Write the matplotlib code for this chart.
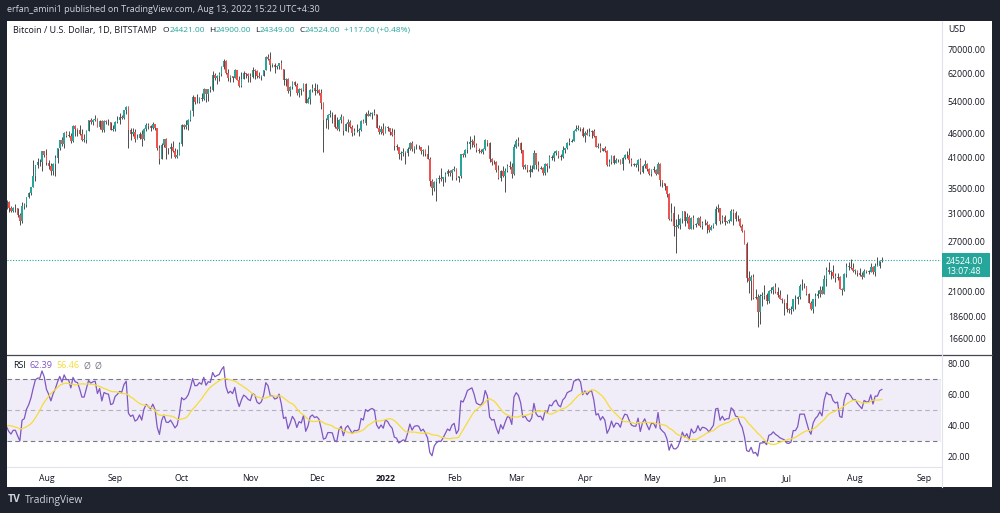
import numpy as np
import pandas as pd
import matplotlib
matplotlib.use("Agg")
import matplotlib.pyplot as plt
import matplotlib.dates as mdates
from matplotlib.ticker import NullLocator
from matplotlib.patches import Rectangle
from matplotlib.lines import Line2D

plt.rcParams['font.family'] = ['Open Sans', 'DejaVu Sans']

W, H = 1000, 513

# BTC/USD daily (Bitstamp), values in thousands of USD
start_date = '2021-07-14'
first_open = 32.7
last_open = 24.421

# closes before the visible range, only used to warm up the RSI (2021-06-14 .. 2021-07-13)
warmup_close = [40.5, 40.2, 38.3, 38.1, 35.8, 35.5, 35.6, 31.6, 32.5, 33.7, 34.7, 31.6, 32.2, 34.7, 34.5, 36.0, 35.0,
                33.5, 33.8, 34.7, 35.3, 33.7, 34.2, 33.9, 32.9, 33.8, 33.5, 34.3, 33.1, 32.7]

close = [
    # Jul 14-31 2021
    32.8, 31.9, 31.4, 31.8, 31.8, 30.8, 29.8, 32.1, 32.3, 33.6, 34.3, 35.4, 37.3, 39.5, 40.0, 40.0, 42.2, 41.5,
    # Aug
    39.9, 39.2, 38.2, 39.7, 40.9, 42.8, 44.6, 43.8, 46.3, 45.6, 45.6, 44.4, 47.8, 47.1, 47.0, 46.0, 44.7, 44.7,
    46.8, 49.3, 48.9, 49.3, 49.5, 47.7, 49.0, 46.9, 49.1, 48.9, 48.8, 47.0, 47.2,
    # Sep
    48.8, 49.3, 50.0, 49.9, 51.8, 52.7, 46.9, 46.1, 46.4, 44.9, 45.2, 46.1, 44.9, 47.1, 48.2, 47.8, 47.3, 48.3,
    47.3, 43.0, 40.7, 43.6, 44.9, 42.8, 42.7, 43.2, 42.2, 41.0, 41.5, 43.8,
    # Oct
    48.2, 47.7, 48.2, 49.2, 51.5, 55.3, 53.8, 53.9, 55.0, 54.7, 57.5, 56.0, 57.4, 57.3, 61.7, 60.9, 61.5, 62.0,
    64.3, 66.0, 62.2, 60.7, 61.4, 60.9, 63.1, 60.3, 58.5, 60.6, 62.3, 61.9, 61.3,
    # Nov
    61.0, 63.2, 62.9, 61.4, 61.0, 61.5, 63.3, 67.5, 66.9, 64.9, 64.9, 64.2, 64.4, 65.5, 63.6, 60.1, 60.4, 56.9,
    58.1, 59.7, 58.7, 56.3, 57.6, 57.2, 58.9, 53.6, 54.8, 57.3, 57.8, 57.0,
    # Dec
    57.2, 56.5, 53.6, 49.2, 49.4, 50.6, 50.6, 50.5, 47.6, 47.1, 49.4, 50.1, 46.7, 48.4, 48.9, 47.6, 46.2, 46.8,
    46.7, 46.9, 49.0, 48.6, 50.8, 50.4, 50.8, 51.0, 50.7, 47.5, 46.5, 47.1, 46.3,
    # Jan 2022
    47.7, 47.3, 46.4, 45.8, 43.4, 43.1, 41.6, 41.8, 42.0, 41.8, 42.7, 43.9, 42.6, 43.1, 43.2, 43.1, 42.2, 42.4,
    41.7, 40.7, 36.5, 35.1, 36.3, 36.7, 36.9, 36.8, 37.2, 37.7, 38.2, 37.9, 38.5,
    # Feb
    38.7, 36.9, 37.3, 41.6, 41.4, 42.4, 43.8, 44.1, 44.4, 43.6, 42.4, 42.2, 42.1, 42.6, 44.6, 43.9, 40.6, 40.0,
    40.1, 38.4, 37.0, 38.3, 37.3, 38.3, 39.2, 39.1, 37.7, 43.2,
    # Mar
    44.4, 43.9, 42.5, 39.1, 39.4, 38.4, 38.0, 38.7, 41.9, 39.4, 38.7, 38.8, 37.8, 39.7, 39.3, 41.1, 40.9, 41.8,
    42.2, 41.3, 41.0, 42.4, 42.9, 44.0, 44.3, 44.5, 46.8, 47.1, 47.4, 47.1, 45.5,
    # Apr
    46.3, 45.8, 46.4, 46.6, 45.5, 43.2, 43.4, 42.3, 42.8, 42.2, 39.5, 40.1, 41.2, 39.9, 40.5, 40.4, 39.7, 40.8,
    41.5, 41.4, 40.5, 39.7, 39.5, 39.5, 40.4, 38.1, 39.2, 39.7, 38.6, 37.7,
    # May
    38.5, 38.5, 37.7, 39.7, 36.6, 36.0, 35.5, 34.1, 30.1, 31.0, 29.1, 29.0, 29.3, 30.1, 31.3, 29.9, 30.4, 28.7,
    30.3, 29.2, 29.4, 30.3, 29.1, 29.6, 29.5, 29.2, 28.6, 29.0, 29.4, 31.7, 31.8,
    # Jun
    29.8, 30.4, 29.7, 29.9, 29.9, 31.4, 31.1, 30.2, 30.1, 29.1, 28.4, 26.6, 22.5, 22.1, 22.6, 20.4, 20.5, 19.0,
    20.6, 20.6, 20.7, 20.0, 21.1, 21.2, 21.5, 21.0, 20.7, 20.3, 20.1, 19.9,
    # Jul
    19.3, 19.2, 19.3, 20.2, 20.2, 20.5, 21.6, 21.6, 21.6, 20.8, 19.9, 19.3, 20.2, 20.6, 20.8, 21.2, 20.8, 22.4,
    23.4, 23.2, 23.2, 22.7, 22.5, 22.6, 21.3, 21.2, 22.9, 23.8, 23.8, 23.6, 23.3,
    # Aug 1-13
    23.3, 23.0, 22.8, 22.6, 23.3, 23.2, 23.2, 23.8, 23.2, 23.9, 23.9, 24.407, 24.524,
]

high = [
    33.1, 32.9, 32.2, 32.0, 32.4, 31.9, 31.0, 32.8, 32.6, 33.6, 34.5, 35.4, 40.5, 39.5, 40.9, 40.6, 42.3, 42.3,
    42.6, 40.4, 39.8, 39.9, 41.4, 43.0, 44.7, 45.3, 46.4, 46.7, 46.8, 46.2, 48.1, 48.0, 47.4, 48.0, 47.2, 46.0,
    47.0, 49.4, 49.8, 49.5, 50.5, 49.9, 49.2, 49.4, 49.2, 49.3, 49.6, 48.9, 48.2,
    49.0, 50.4, 51.0, 50.5, 51.9, 52.9, 52.9, 47.3, 47.3, 47.1, 45.9, 46.4, 46.9, 47.3, 48.5, 48.5, 48.2, 48.8,
    48.4, 47.4, 43.6, 44.0, 44.9, 45.0, 42.9, 44.0, 44.4, 42.8, 42.6, 44.1,
    48.4, 48.4, 49.3, 49.5, 51.9, 55.8, 55.3, 56.1, 55.4, 56.5, 57.8, 57.6, 57.6, 58.5, 62.9, 62.3, 61.8, 62.6,
    64.4, 66.9, 66.6, 63.7, 61.7, 61.5, 63.7, 63.2, 61.5, 62.5, 62.9, 62.3, 62.4,
    62.4, 64.3, 63.5, 63.1, 62.6, 61.6, 63.3, 67.7, 68.5, 69.0, 65.6, 65.4, 64.9, 65.5, 66.3, 63.6, 60.8, 60.9,
    58.4, 59.8, 60.0, 59.3, 57.8, 57.7, 59.4, 59.2, 55.3, 57.4, 58.9, 59.2,
    59.1, 57.4, 57.6, 53.9, 49.8, 50.9, 51.9, 51.2, 50.8, 50.1, 49.5, 50.8, 50.2, 48.7, 49.5, 49.4, 48.0, 47.3,
    48.3, 47.5, 49.3, 49.6, 51.4, 51.8, 51.2, 51.3, 52.0, 50.7, 48.1, 47.9, 48.5,
    47.9, 47.9, 47.5, 47.5, 47.1, 43.7, 43.1, 42.3, 42.8, 42.2, 43.1, 44.3, 44.4, 43.4, 43.8, 43.5, 43.2, 42.7,
    42.6, 43.5, 41.1, 36.8, 36.4, 37.0, 37.6, 38.9, 37.2, 38.0, 38.7, 38.4, 38.7,
    39.3, 38.9, 37.4, 41.7, 41.9, 42.7, 44.5, 45.5, 44.8, 45.8, 43.9, 43.0, 42.7, 42.9, 44.8, 44.6, 44.2, 40.9,
    40.4, 40.2, 39.5, 38.4, 39.3, 38.8, 39.7, 40.3, 39.9, 43.8,
    44.9, 45.4, 44.1, 42.5, 39.6, 39.3, 39.5, 39.4, 42.5, 41.9, 40.2, 39.3, 39.0, 39.9, 39.8, 41.5, 41.4, 42.3,
    42.4, 42.3, 41.7, 43.3, 43.0, 44.2, 45.1, 44.8, 46.9, 48.2, 48.1, 47.7, 47.6,
    46.7, 47.2, 47.4, 46.9, 47.1, 45.5, 43.9, 43.9, 42.8, 43.4, 42.4, 40.7, 41.5, 41.5, 40.9, 40.7, 40.6, 41.1,
    41.7, 42.2, 42.9, 40.8, 39.9, 39.9, 40.6, 40.8, 39.5, 40.4, 39.9, 38.8,
    38.6, 39.2, 38.6, 40.0, 39.8, 36.6, 36.1, 35.5, 34.3, 32.7, 32.2, 30.1, 30.9, 30.3, 31.4, 31.3, 31.0, 30.7,
    30.5, 30.7, 29.6, 30.5, 30.6, 29.8, 30.2, 29.8, 29.4, 29.2, 29.5, 32.2, 32.4,
    31.9, 30.7, 30.7, 29.9, 30.2, 31.7, 31.6, 31.3, 30.7, 30.3, 29.4, 28.5, 26.9, 23.3, 22.8, 22.9, 21.3, 20.8,
    20.8, 21.0, 21.7, 20.9, 21.2, 21.5, 21.6, 21.9, 21.5, 21.2, 20.4, 20.2,
    20.8, 19.4, 19.6, 20.3, 20.7, 20.6, 21.8, 22.4, 21.9, 21.6, 20.9, 20.0, 20.3, 20.9, 21.2, 21.6, 21.6, 22.8,
    23.8, 24.3, 23.4, 24.0, 23.0, 23.0, 22.7, 21.4, 23.1, 24.2, 24.4, 24.7, 24.2,
    23.5, 23.4, 23.6, 23.2, 23.5, 23.4, 23.4, 24.2, 23.9, 24.2, 24.9, 24.5, 24.9,
]

low = [
    31.6, 31.2, 31.2, 31.2, 31.2, 30.5, 29.3, 29.5, 31.7, 32.0, 33.4, 33.9, 35.3, 36.4, 38.8, 39.3, 38.3, 41.0,
    39.4, 38.7, 37.6, 37.5, 37.4, 39.9, 42.5, 43.3, 42.8, 45.4, 45.3, 43.9, 44.3, 45.6, 45.6, 45.7, 44.4, 44.2,
    43.9, 46.6, 48.3, 48.2, 49.0, 47.6, 47.2, 46.4, 46.4, 48.4, 48.0, 46.9, 46.8,
    46.6, 48.7, 48.4, 49.5, 49.5, 50.9, 43.0, 44.6, 45.5, 44.2, 44.8, 44.8, 43.4, 44.7, 46.7, 47.1, 46.8, 47.1,
    46.9, 42.5, 39.6, 40.6, 43.1, 40.7, 41.7, 40.8, 42.1, 40.9, 40.8, 41.4,
    43.3, 47.2, 47.1, 46.9, 49.1, 50.4, 53.4, 53.6, 53.7, 54.1, 54.4, 53.9, 54.3, 56.8, 56.9, 60.2, 58.9, 60.0,
    61.3, 63.4, 62.0, 60.0, 59.7, 59.6, 60.7, 60.1, 58.0, 58.1, 60.4, 60.7, 59.5,
    59.5, 60.7, 60.4, 60.7, 60.8, 60.1, 61.4, 63.3, 66.3, 63.0, 64.1, 62.3, 63.4, 63.6, 63.4, 58.6, 58.4, 56.5,
    55.6, 57.4, 58.5, 55.7, 55.4, 55.9, 57.0, 53.6, 53.7, 53.4, 56.8, 55.9,
    56.4, 55.9, 52.0, 42.0, 47.4, 47.2, 50.1, 48.7, 47.3, 46.9, 46.7, 48.7, 45.7, 46.6, 46.5, 47.5, 45.5, 45.7,
    46.5, 45.6, 46.6, 48.5, 48.1, 50.4, 50.2, 49.5, 50.5, 47.3, 46.1, 46.0, 45.7,
    46.2, 46.7, 45.7, 45.5, 42.5, 42.5, 40.6, 40.5, 41.2, 39.6, 41.3, 42.5, 42.3, 41.8, 42.6, 42.7, 41.6, 41.3,
    41.2, 40.6, 35.5, 34.0, 34.6, 33.0, 36.0, 36.4, 35.5, 36.2, 37.4, 37.4, 36.6,
    38.2, 36.6, 36.3, 37.0, 41.0, 41.1, 41.9, 42.7, 43.2, 43.2, 42.0, 41.8, 41.9, 41.6, 42.5, 43.3, 40.1, 39.5,
    39.7, 38.0, 36.8, 36.4, 37.1, 34.4, 38.0, 38.6, 37.0, 37.5,
    42.9, 43.4, 41.9, 38.7, 38.6, 38.1, 37.2, 38.0, 38.7, 38.6, 38.2, 38.7, 37.6, 37.6, 38.1, 38.9, 40.5, 40.2,
    41.5, 40.9, 40.5, 40.9, 41.8, 42.6, 43.6, 44.1, 44.4, 46.7, 46.9, 46.6, 45.3,
    44.2, 45.7, 45.5, 45.2, 45.4, 43.1, 42.8, 42.1, 42.2, 42.0, 39.2, 39.3, 39.6, 39.6, 39.8, 40.0, 39.6, 38.5,
    40.6, 40.9, 39.8, 39.2, 39.3, 39.0, 38.2, 37.7, 37.9, 38.9, 38.2, 37.6,
    37.4, 38.1, 37.5, 37.7, 35.6, 35.3, 34.8, 33.7, 30.0, 29.8, 27.7, 25.5, 28.8, 28.7, 29.5, 29.1, 29.5, 28.7,
    28.7, 28.7, 29.0, 29.2, 28.9, 28.7, 29.3, 28.1, 28.3, 28.5, 28.8, 29.3, 31.2,
    29.4, 29.6, 29.3, 29.5, 29.5, 29.9, 29.2, 29.9, 29.9, 28.9, 28.2, 26.6, 22.0, 20.9, 20.1, 20.2, 20.2, 17.6,
    17.9, 19.6, 20.3, 19.8, 19.9, 20.9, 20.8, 20.9, 20.5, 20.2, 19.9, 18.7,
    19.0, 18.9, 18.8, 19.1, 19.3, 19.8, 20.3, 21.2, 21.4, 20.7, 19.9, 19.2, 18.9, 19.6, 20.4, 20.5, 20.8, 20.8,
    21.6, 22.9, 22.4, 22.5, 22.0, 22.3, 21.3, 20.7, 21.1, 22.6, 23.4, 23.5, 23.2,
    22.9, 22.7, 22.7, 22.4, 22.6, 23.1, 22.9, 23.2, 22.9, 22.7, 23.9, 23.6, 24.349,
]

price_ticks = [70000, 62000, 54000, 46000, 41000, 35000, 31000, 27000, 21000, 18600, 16600]
rsi_ticks = [20, 40, 60, 80]
month_starts = pd.date_range('2021-08-01', '2022-09-01', freq='MS')
month_labels = ['Aug', 'Sep', 'Oct', 'Nov', 'Dec', '2022', 'Feb', 'Mar', 'Apr', 'May', 'Jun', 'Jul', 'Aug', 'Sep']

assert len(close) == len(high) == len(low)

c = np.array(close) * 1000
h = np.array(high) * 1000
l = np.array(low) * 1000
o = np.r_[first_open, close[:-1]] * 1000
o[-1] = last_open * 1000
dates = pd.date_range(start_date, periods=len(c), freq='D')
x = mdates.date2num(dates)

# RSI 14 (Wilder) and its 14-period SMA
allc = pd.Series(np.r_[warmup_close, close] * 1000)
d = allc.diff()
gain = d.clip(lower=0).ewm(alpha=1 / 14, adjust=False).mean()
loss = (-d.clip(upper=0)).ewm(alpha=1 / 14, adjust=False).mean()
rsi = 100 - 100 / (1 + gain / loss)
rsi_ma = rsi.rolling(14).mean()
rsi = rsi.values[-len(c):]
rsi_ma = rsi_ma.values[-len(c):]

TEAL = '#26a69a'
RED = '#ef5350'
DARK = '#131722'
PURPLE = '#7e57c2'
YELLOW = '#f5dc3a'

fig = plt.figure(figsize=(W / 100, H / 100), dpi=100, facecolor='#1e222d')


def fx(px):
    return px / W


def fy(py):
    return 1 - py / H


# white chart area
fig.patches.append(Rectangle((fx(7), fy(487)), fx(985), 466.5 / H, transform=fig.transFigure,
                             facecolor='white', edgecolor='none', zorder=-5))

ax = fig.add_axes([fx(7), fy(354), fx(934), 333.5 / H])
ax2 = fig.add_axes([fx(7), fy(466), fx(934), 111.5 / H], sharex=ax)
for a in (ax, ax2):
    a.set_facecolor('none')
    for s in a.spines.values():
        s.set_visible(False)

# candles
up = c >= o
colors = np.where(up, TEAL, RED)
body_lo = np.minimum(o, c)
body_h = np.maximum(np.abs(c - o), c * 0.002)
ax.vlines(x, l, h, color='#4d4d4d', lw=0.7, zorder=2)
ax.bar(x, body_h, bottom=body_lo, width=0.7, color=colors, linewidth=0, zorder=3)
ax.axhline(c[-1], color=TEAL, lw=0.8, ls=(0, (1, 1.5)), zorder=1)

ax.set_yscale('log')
ax.set_ylim(15405, 80870)
ax.yaxis.tick_right()
ax.yaxis.set_minor_locator(NullLocator())
ax.set_yticks(price_ticks)
ax.set_yticklabels(['%.2f' % v for v in price_ticks])
ax.tick_params(axis='y', length=0, pad=5, labelsize=6.3, labelcolor=DARK)
ax.tick_params(axis='x', bottom=False, labelbottom=False)

xl = mdates.date2num(pd.Timestamp('2021-08-01')) - 17.8
ax.set_xlim(xl, xl + 17.8 + 403.7)

# RSI pane
ax2.axhspan(30, 70, color=PURPLE, alpha=0.1, lw=0)
ax2.axhline(70, color='#787b86', lw=0.8, ls=(0, (4, 3)))
ax2.axhline(30, color='#787b86', lw=0.8, ls=(0, (4, 3)))
ax2.axhline(50, color='#787b86', lw=0.8, ls=(0, (4, 3)), alpha=0.5)
ax2.plot(x, rsi, color=PURPLE, lw=0.9)
ax2.plot(x, rsi_ma, color=YELLOW, lw=0.9)
ax2.set_ylim(14.2, 85.8)
ax2.yaxis.tick_right()
ax2.set_yticks(rsi_ticks)
ax2.set_yticklabels(['%.2f' % v for v in rsi_ticks])
ax2.tick_params(axis='y', length=0, pad=5, labelsize=6.3, labelcolor=DARK)
ax2.set_xticks(mdates.date2num(month_starts))
ax2.set_xticklabels(month_labels)
ax2.tick_params(axis='x', length=0, pad=6, labelsize=6.3, labelcolor=DARK)
ax2.get_xticklabels()[5].set_fontweight('bold')

# separators
fig.add_artist(Line2D([fx(7), fx(992)], [fy(354.5), fy(354.5)], color='#434651', lw=0.9))
fig.add_artist(Line2D([fx(7), fx(941)], [fy(466.5), fy(466.5)], color='#e0e3eb', lw=0.8))
fig.add_artist(Line2D([fx(941.5), fx(941.5)], [fy(21), fy(487)], color='#e0e3eb', lw=0.8))

# price tag
fig.patches.append(Rectangle((fx(942), fy(277)), fx(48), 24 / H, transform=fig.transFigure,
                             facecolor=TEAL, edgecolor='none', zorder=5))
fig.text(fx(946), fy(261), '24524.00', color='white', fontsize=6.3, va='center', zorder=6)
fig.text(fx(946), fy(271.5), '13:07:48', color='white', fontsize=6.3, va='center', zorder=6)
fig.text(fx(948), fy(30), 'USD', color=DARK, fontsize=6.3, va='center')

renderer = fig.canvas.get_renderer()


def text_row(px, py, pieces):
    for s, color, size, gap in pieces:
        t = fig.text(fx(px), fy(py), s, color=color, fontsize=size, va='center', ha='left')
        px = t.get_window_extent(renderer).x1 + gap


fig.text(fx(7), fy(10), 'erfan_amini1 published on TradingView.com, Aug 13, 2022 15:22 UTC+4:30',
         color='#d1d4dc', fontsize=6.5, va='center')

vs = 6.0
text_row(13, 30, [('Bitcoin / U.S. Dollar, 1D, BITSTAMP', DARK, 6.5, 6),
                  ('O', DARK, vs, 0.3), ('24421.00', TEAL, vs, 4),
                  ('H', DARK, vs, 0.3), ('24900.00', TEAL, vs, 4),
                  ('L', DARK, vs, 0.3), ('24349.00', TEAL, vs, 4),
                  ('C', DARK, vs, 0.3), ('24524.00', TEAL, vs, 4),
                  ('+117.00 (+0.48%)', TEAL, vs, 0)])

text_row(13, 366, [('RSI', DARK, 6.5, 4), ('62.39', PURPLE, 6.5, 4), ('56.46', YELLOW, 6.5, 4),
                   ('Ø', '#787b86', 6.5, 4), ('Ø', '#787b86', 6.5, 0)])

# footer logo
fig.text(fx(8), fy(500), 'TV', color='#d1d4dc', fontsize=7.5, fontweight='bold', va='center')
fig.text(fx(25), fy(500), 'TradingView', color='#d1d4dc', fontsize=7.3, va='center')

fig.savefig('out.png', dpi=100, facecolor=fig.get_facecolor())
